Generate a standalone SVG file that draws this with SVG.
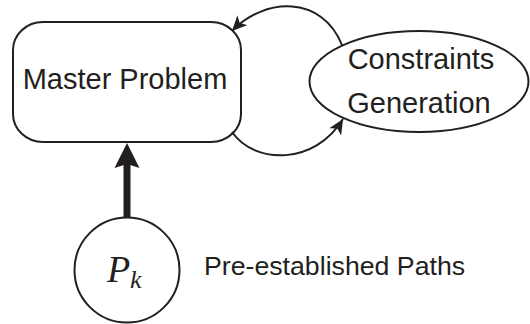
<svg xmlns="http://www.w3.org/2000/svg" width="530" height="324" viewBox="0 0 530 324">
<style>
.shape{fill:#fff;stroke:#231f20;stroke-width:2}
.lbl{font-family:"Liberation Sans",Arial,sans-serif;fill:#231f20;text-anchor:middle}
.conn{fill:none;stroke:#231f20;stroke-width:2}
.head{fill:#231f20}
</style>
<defs>
<marker id="ah" markerUnits="userSpaceOnUse" markerWidth="16" markerHeight="14" viewBox="0 0 16 14" refX="15" refY="7" orient="auto">
<path d="M0,0 L15,7 L0,14 L4,7 Z" fill="#231f20"/>
</marker>
</defs>
<g id="master">
<rect class="shape" x="13" y="22" width="228" height="120" rx="30" ry="28"/>
<text class="lbl" x="125" y="89" font-size="29">Master Problem</text>
</g>
<g id="constraints">
<ellipse class="shape" cx="419" cy="81.5" rx="109.5" ry="50.5"/>
<text class="lbl" x="421" y="69" font-size="29">Constraints</text>
<text class="lbl" x="419" y="113" font-size="29">Generation</text>
</g>
<g id="paths">
<circle class="shape" cx="127" cy="270" r="52.5"/>
<text x="107" y="282" font-family="'Liberation Serif','Times New Roman',serif" font-style="italic" font-size="38" fill="#231f20">P</text>
<text x="130" y="288" font-family="'Liberation Serif','Times New Roman',serif" font-style="italic" font-size="26" fill="#231f20">k</text>
<text x="204" y="275" font-family="'Liberation Sans',Arial,sans-serif" font-size="26.7" fill="#231f20">Pre-established Paths</text>
</g>
<g id="connectors">
<path class="conn" d="M342,45 C322,-5 265,-3 232,31" marker-end="url(#ah)"/>
<path class="conn" d="M232,132 C255,165 315,165 343,119" marker-end="url(#ah)"/>
<path d="M127,217 L127,163" fill="none" stroke="#231f20" stroke-width="7"/>
<path class="head" d="M127,143 L139.5,168 L127,164 L114.5,168 Z"/>
</g>
</svg>
